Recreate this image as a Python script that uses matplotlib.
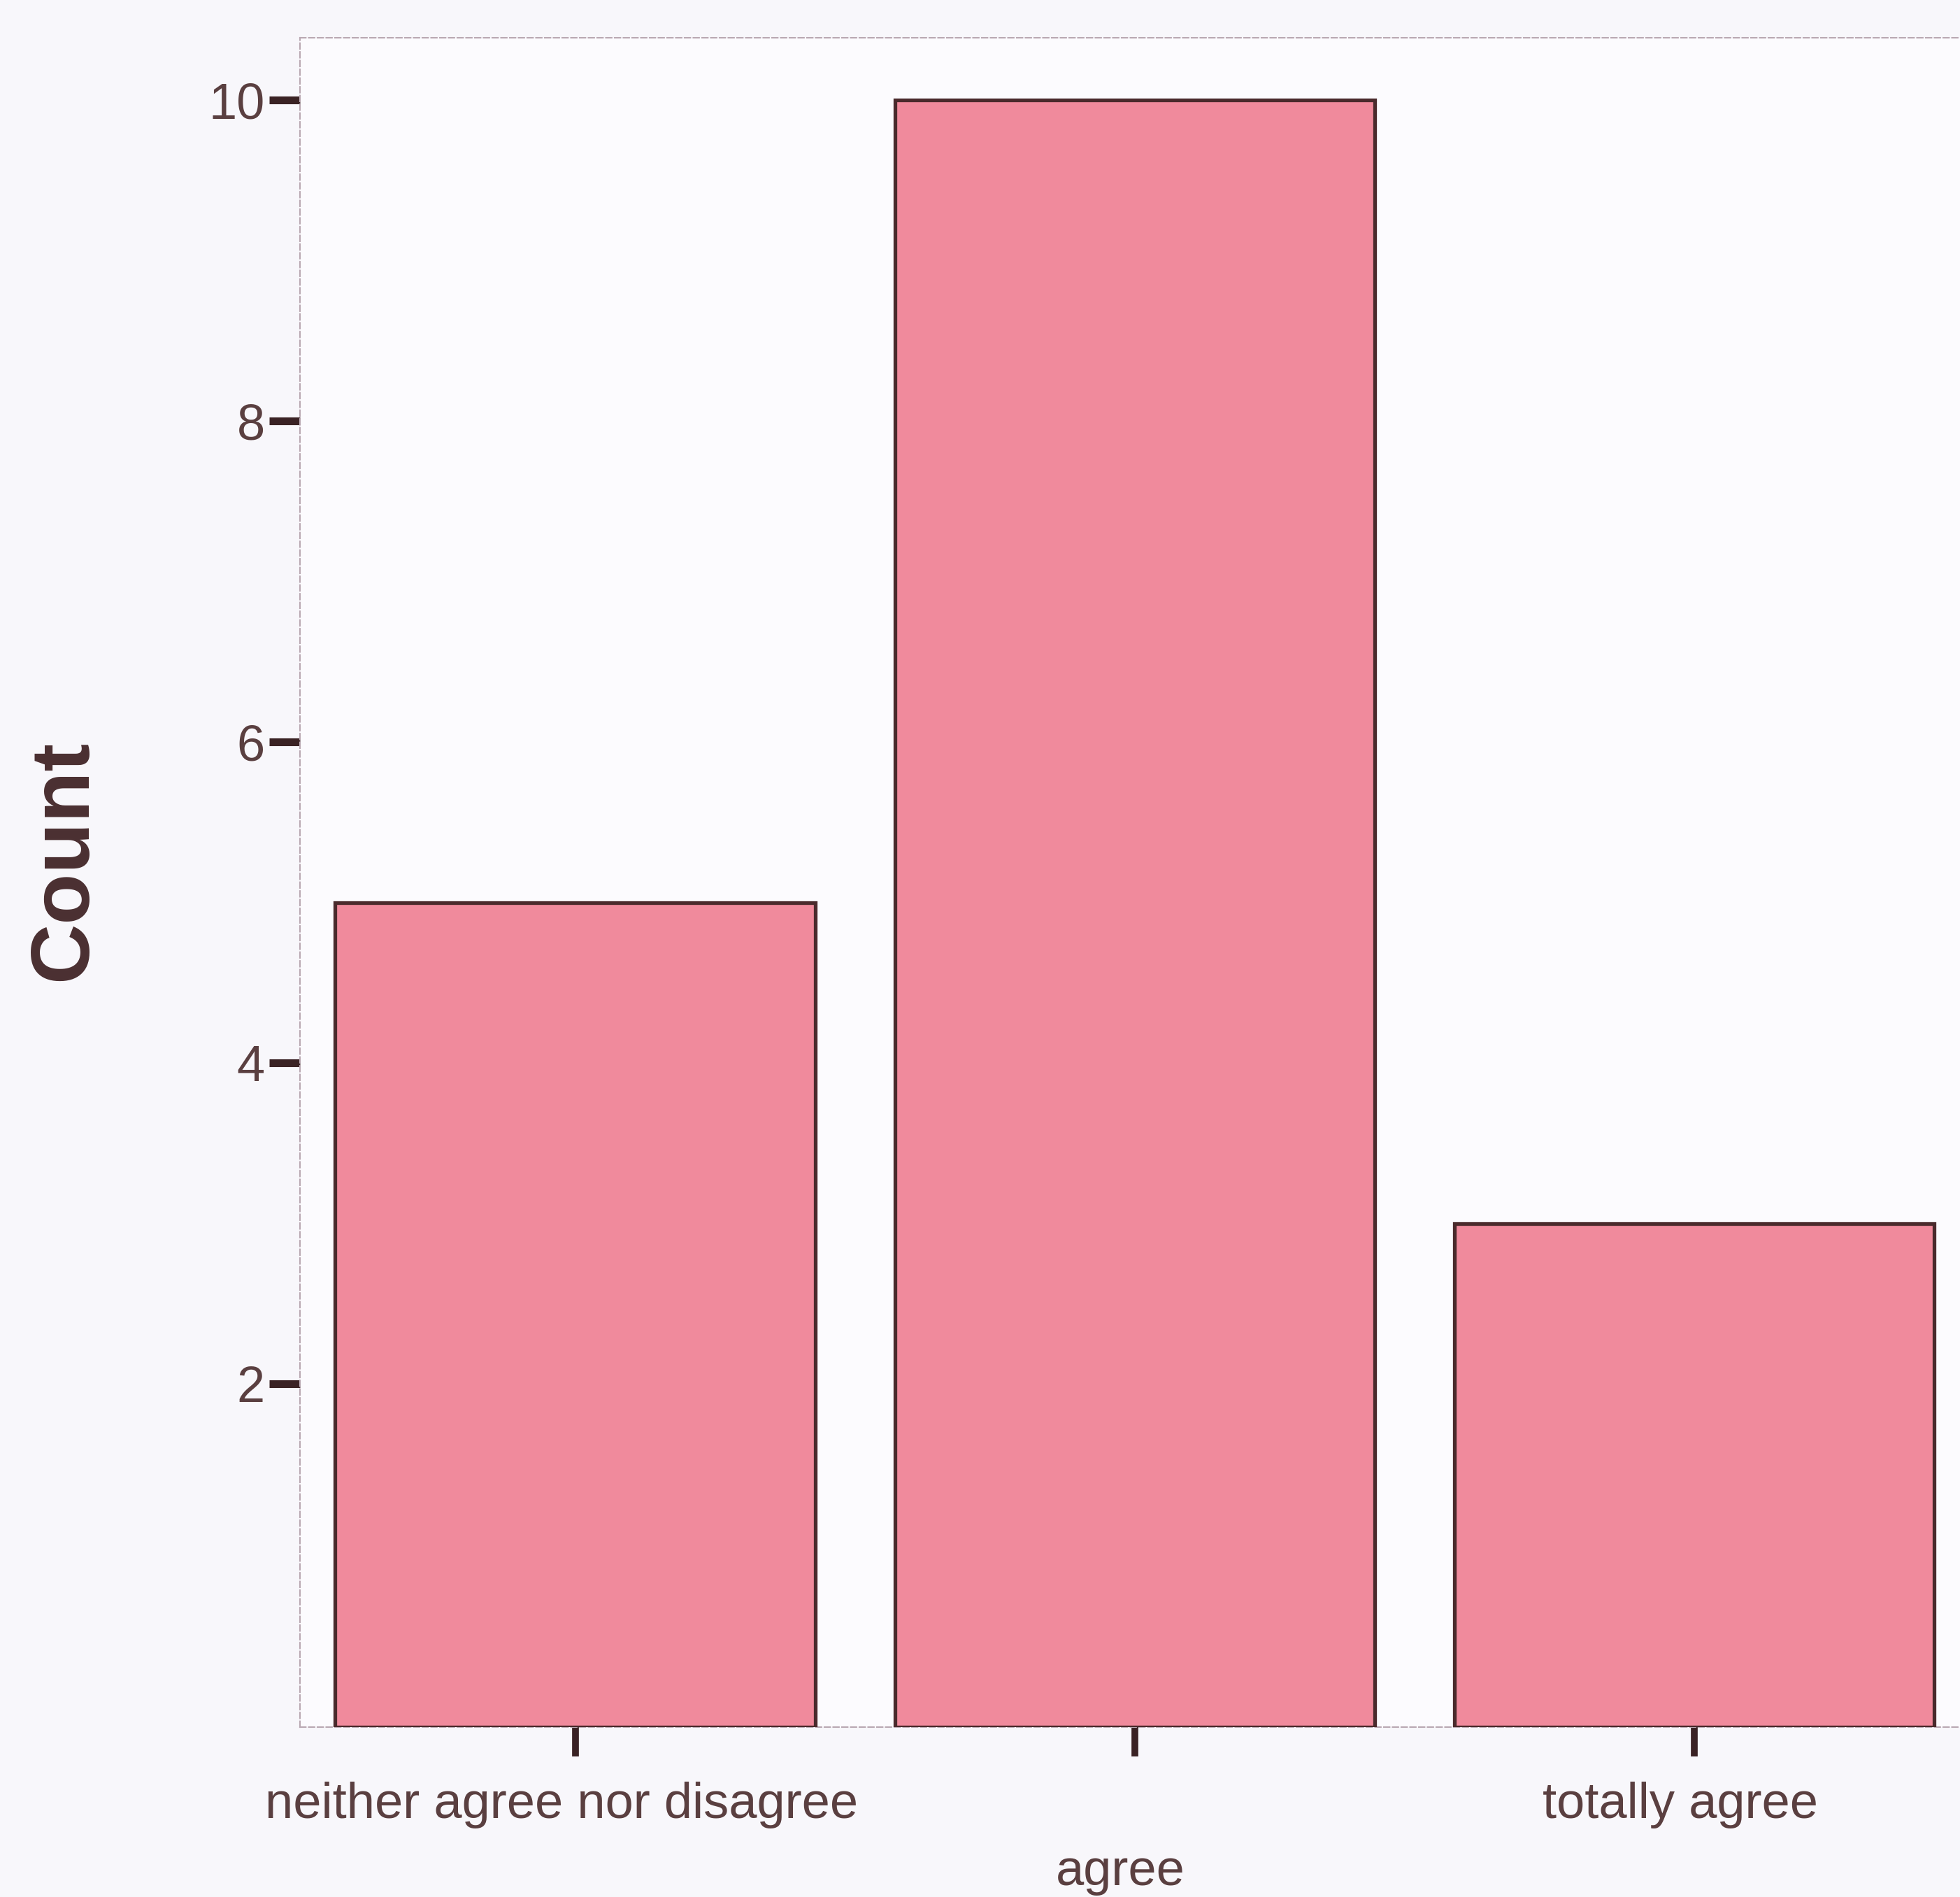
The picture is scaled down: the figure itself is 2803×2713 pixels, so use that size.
import matplotlib
matplotlib.use("Agg")
import matplotlib.pyplot as plt
import matplotlib.transforms as mtransforms
import numpy as np

categories = ["neither agree nor disagree", "agree", "totally agree"]
counts = [5, 10, 3]
yticks = [2, 4, 6, 8, 10]

plt.rcParams['font.family'] = ['Liberation Sans', 'DejaVu Sans']

W, H = 2803, 2713
fig = plt.figure(figsize=(W / 100, H / 100), dpi=100, facecolor='#f8f7fb')
ax = fig.add_axes([429 / W, 1 - 2470 / H, 1 - 429 / W, (2470 - 54) / H])
ax.set_facecolor('#fcfbfe')

y0 = -0.14
x = np.arange(len(categories))
heights = [c - y0 for c in counts]
ax.bar(x, heights, bottom=y0, width=0.858, color='#f08a9c',
       edgecolor='#4a2a2c', linewidth=3.8, zorder=3)

ax.set_xlim(-0.492, 2.475)
ax.set_ylim(y0, 10.39)

ax.set_yticks(yticks)
ax.set_yticklabels([str(t) for t in yticks])
ax.set_xticks(x)
ax.set_xticklabels(categories)

ax.tick_params(axis='y', length=32, width=8, color='#3a2224', pad=4,
               labelsize=52, labelcolor='#5a3f40')
ax.tick_params(axis='x', length=30, width=7, color='#3a2224', pad=26,
               labelsize=52, labelcolor='#5a3f40')
labels = ax.get_xticklabels()
shift = mtransforms.ScaledTranslation(-0.2, 0, fig.dpi_scale_trans)
for lbl in labels:
    lbl.set_transform(lbl.get_transform() + shift)
labels[1].set_y(-0.040)

for s in ['left', 'top', 'bottom']:
    ax.spines[s].set_color('#b9a8b2')
    ax.spines[s].set_linewidth(1.5)
    ax.spines[s].set_linestyle((0, (4, 2)))
ax.spines['right'].set_visible(False)

fig.text(93 / W, 1 - 1230 / H, "Count", rotation=90, ha='center', va='center',
         fontsize=86, fontweight='bold', color='#4a2f31')

fig.savefig("out.png", dpi=100, facecolor=fig.get_facecolor())
